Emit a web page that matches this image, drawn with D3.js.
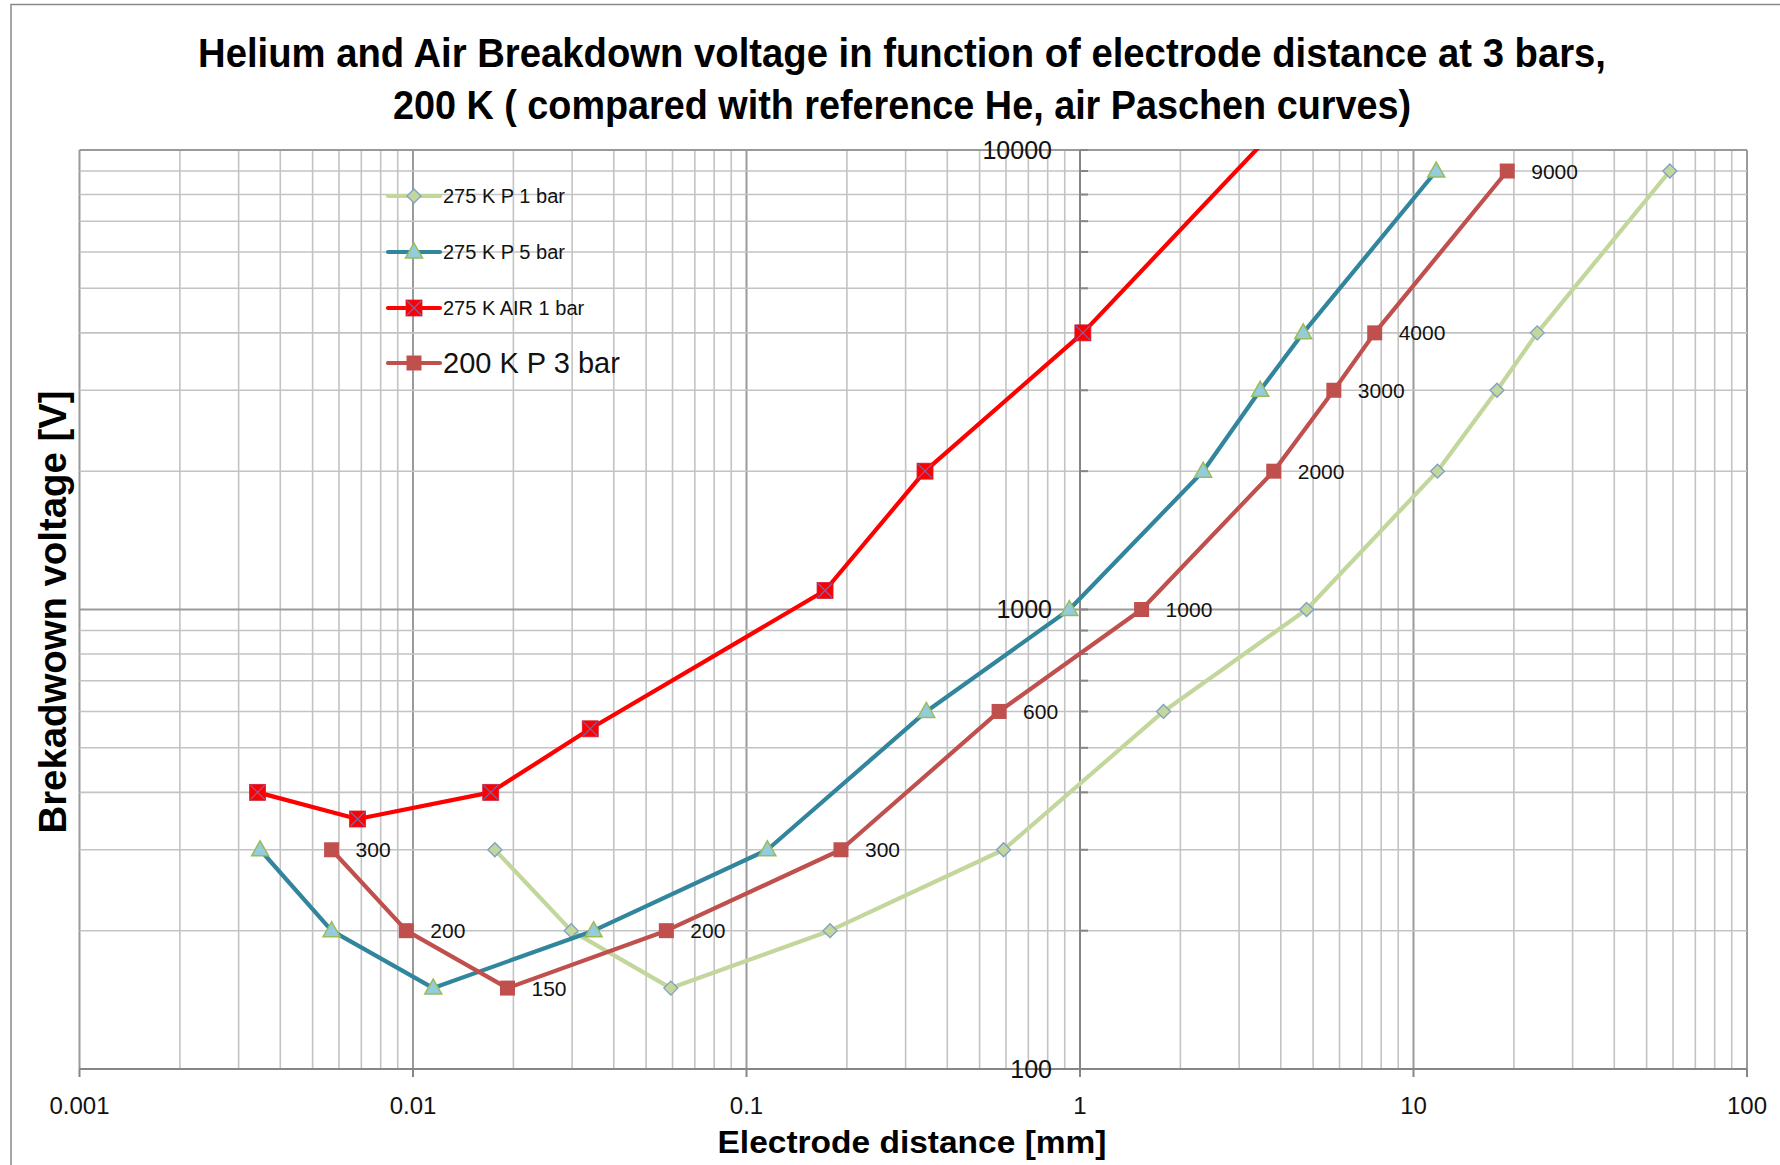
<!DOCTYPE html>
<html><head><meta charset="utf-8">
<script src="https://cdn.jsdelivr.net/npm/d3@7"></script>
<style>body{margin:0;background:#fff} svg{display:block}</style>
</head><body><svg id="c" width="1780" height="1165"></svg>
<script>
// ---- data ----
const heP1barX = [0.0176, 0.0298, 0.0593, 0.178, 0.59, 1.78, 4.78, 11.8, 17.8, 23.5, 58.7];
const heP1barV = [300, 200, 150, 200, 300, 600, 1000, 2000, 3000, 4000, 9000];
const heP5barX = [0.00348, 0.0057, 0.0115, 0.0348, 0.1155, 0.346, 0.929, 2.34, 3.47, 4.67, 11.7];
const heP5barV = [300, 200, 150, 200, 300, 600, 1000, 2000, 3000, 4000, 9000];
const air1barX = [0.00342, 0.00682, 0.0171, 0.034, 0.172, 0.343, 1.02, 10];
const air1barV = [400, 350, 400, 550, 1100, 2000, 4000, 23000];
const he200K3barX = [0.0057, 0.00955, 0.0192, 0.0575, 0.192, 0.572, 1.53, 3.81, 5.77, 7.65, 19.1];
const he200K3barV = [300, 200, 150, 200, 300, 600, 1000, 2000, 3000, 4000, 9000];
const he200K3barLabels = ["300", "200", "150", "200", "300", "600", "1000", "2000", "3000", "4000", "9000"];
const seriesNames = ["275 K P 1 bar", "275 K P 5 bar", "275 K AIR 1 bar", "200 K P 3 bar"];
const xTickLabels = ["0.001", "0.01", "0.1", "1", "10", "100"];
const yTickLabels = ["100", "1000", "10000"];
const titleLines = ["Helium and Air Breakdown voltage in function of electrode distance at 3 bars,",
                    "200 K ( compared with reference He, air Paschen curves)"];
const xTitle = "Electrode  distance [mm]";
const yTitle = "Brekadwown voltage [V]";

// ---- layout ----
const FONT = "'Liberation Sans', Arial, sans-serif";
const L = 79.5, R = 1747, T = 150, B = 1069;
const svg = d3.select("#c");
const x = d3.scaleLog().domain([0.001, 100]).range([L, R]);
const y = d3.scaleLog().domain([100, 10000]).range([B, T]);

// outer chart border
svg.append("path").attr("d", `M11,1165 L11,4.5 L1780,4.5`).attr("fill", "none")
  .attr("stroke", "#8a8a8a").attr("stroke-width", 1.5);

// grid
const isMajor = v => Math.abs(Math.log10(v) - Math.round(Math.log10(v))) < 1e-6;
const g = svg.append("g");
x.ticks().forEach(v => {
  g.append("line").attr("x1", x(v)).attr("x2", x(v)).attr("y1", T).attr("y2", B)
    .attr("stroke", isMajor(v) ? "#9a9a9a" : "#c3c3c3").attr("stroke-width", isMajor(v) ? 2 : 1.6);
});
y.ticks().forEach(v => {
  g.append("line").attr("x1", L).attr("x2", R).attr("y1", y(v)).attr("y2", y(v))
    .attr("stroke", isMajor(v) ? "#9a9a9a" : "#c3c3c3").attr("stroke-width", isMajor(v) ? 2 : 1.6);
});

// axes: y axis crosses at x = 1, x axis at y = 100
const ax = x(1);
svg.append("line").attr("x1", ax).attr("x2", ax).attr("y1", T).attr("y2", B)
  .attr("stroke", "#868686").attr("stroke-width", 2);
y.ticks().forEach(v => {
  svg.append("line").attr("x1", ax).attr("x2", ax + 8).attr("y1", y(v)).attr("y2", y(v))
    .attr("stroke", "#868686").attr("stroke-width", 2);
});
svg.append("line").attr("x1", L).attr("x2", R).attr("y1", B).attr("y2", B)
  .attr("stroke", "#868686").attr("stroke-width", 2);
xTickLabels.forEach(t => {
  const v = +t;
  svg.append("line").attr("x1", x(v)).attr("x2", x(v)).attr("y1", B).attr("y2", B + 8)
    .attr("stroke", "#868686").attr("stroke-width", 2);
  svg.append("text").attr("x", x(v)).attr("y", 1114).attr("text-anchor", "middle")
    .attr("font-family", FONT).attr("font-size", 24).attr("fill", "#111").text(t);
});
yTickLabels.forEach(t => {
  const v = +t;
  svg.append("text").attr("x", 1052).attr("y", y(v) + 8.5).attr("text-anchor", "end")
    .attr("font-family", FONT).attr("font-size", 25).attr("fill", "#111").text(t);
});

// titles
svg.append("text").attr("x", 902).attr("y", 67).attr("text-anchor", "middle")
  .attr("font-family", FONT).attr("font-weight", "bold").attr("font-size", 40)
  .attr("textLength", 1408).attr("lengthAdjust", "spacingAndGlyphs").text(titleLines[0]);
svg.append("text").attr("x", 902).attr("y", 119).attr("text-anchor", "middle")
  .attr("font-family", FONT).attr("font-weight", "bold").attr("font-size", 40)
  .attr("textLength", 1018).attr("lengthAdjust", "spacingAndGlyphs").text(titleLines[1]);
svg.append("text").attr("x", 912).attr("y", 1153).attr("text-anchor", "middle")
  .attr("font-family", FONT).attr("font-weight", "bold").attr("font-size", 31)
  .attr("textLength", 389).attr("lengthAdjust", "spacingAndGlyphs").text(xTitle);
svg.append("text").attr("transform", "translate(66,612) rotate(-90)").attr("text-anchor", "middle")
  .attr("font-family", FONT).attr("font-weight", "bold").attr("font-size", 38)
  .attr("textLength", 443).attr("lengthAdjust", "spacingAndGlyphs").text(yTitle);

// series
const series = [
  {name: seriesNames[0], xs: heP1barX, vs: heP1barV, color: "#C3D69B", marker: "diamond", fill: "#C3D69B", stroke: "#7F9FC7"},
  {name: seriesNames[1], xs: heP5barX, vs: heP5barV, color: "#31859C", marker: "triangle", fill: "#93CDDD", stroke: "#9BBB59"},
  {name: seriesNames[2], xs: air1barX, vs: air1barV, color: "#FF0000", marker: "xsquare", fill: "#FF0000", stroke: "#7F64A8"},
  {name: seriesNames[3], xs: he200K3barX, vs: he200K3barV, color: "#C0504D", marker: "square", fill: "#C0504D", stroke: "#C0504D"}
];

svg.append("clipPath").attr("id", "plotclip").append("rect")
  .attr("x", L).attr("y", T - 1).attr("width", R - L).attr("height", B - T + 2);

function drawMarker(sel, s, cx, cy) {
  const m = sel.append("g").attr("transform", `translate(${cx},${cy})`);
  if (s.marker === "diamond") {
    m.append("path").attr("d", "M0,-7 L7,0 L0,7 L-7,0Z").attr("fill", s.fill)
      .attr("stroke", s.stroke).attr("stroke-width", 1.3);
  } else if (s.marker === "triangle") {
    m.append("path").attr("d", "M0,-9 L8.5,6 L-8.5,6Z").attr("fill", s.fill)
      .attr("stroke", s.stroke).attr("stroke-width", 1.5);
  } else if (s.marker === "xsquare") {
    m.append("rect").attr("x", -8).attr("y", -8).attr("width", 16).attr("height", 16)
      .attr("fill", s.fill).attr("stroke", "#d0203a").attr("stroke-width", 0.8);
    m.append("path").attr("d", "M-7,-7 L7,7 M7,-7 L-7,7").attr("stroke", s.stroke)
      .attr("stroke-width", 1.2).attr("fill", "none");
  } else {
    m.append("rect").attr("x", -7.5).attr("y", -7.5).attr("width", 15).attr("height", 15)
      .attr("fill", s.fill);
  }
}

const lineGen = d3.line().x(d => x(d[0])).y(d => y(d[1]));
const plot = svg.append("g").attr("clip-path", "url(#plotclip)");
series.forEach(s => {
  const pts = s.xs.map((xv, i) => [xv, s.vs[i]]);
  plot.append("path").attr("d", lineGen(pts)).attr("fill", "none")
    .attr("stroke", s.color).attr("stroke-width", 4.2).attr("stroke-linejoin", "round");
  pts.forEach(p => drawMarker(plot, s, x(p[0]), y(p[1])));
});

// data labels for the 200 K P 3 bar series
he200K3barX.forEach((xv, i) => {
  svg.append("text").attr("x", x(xv) + 24).attr("y", y(he200K3barV[i]) + 7.5)
    .attr("font-family", FONT).attr("font-size", 21).attr("fill", "#111").text(he200K3barLabels[i]);
});

// legend
const legY = [196, 252, 308, 363];
const legSize = [20, 20, 20, 29];
series.forEach((s, i) => {
  const ly = legY[i];
  svg.append("line").attr("x1", 388).attr("x2", 440).attr("y1", ly).attr("y2", ly)
    .attr("stroke", s.color).attr("stroke-width", 4.2).attr("stroke-linecap", "round");
  drawMarker(svg, s, 414, ly);
  svg.append("text").attr("x", 443).attr("y", ly + (i === 3 ? 10 : 7))
    .attr("font-family", FONT).attr("font-size", legSize[i]).attr("fill", "#111").text(s.name);
});
</script></body></html>
